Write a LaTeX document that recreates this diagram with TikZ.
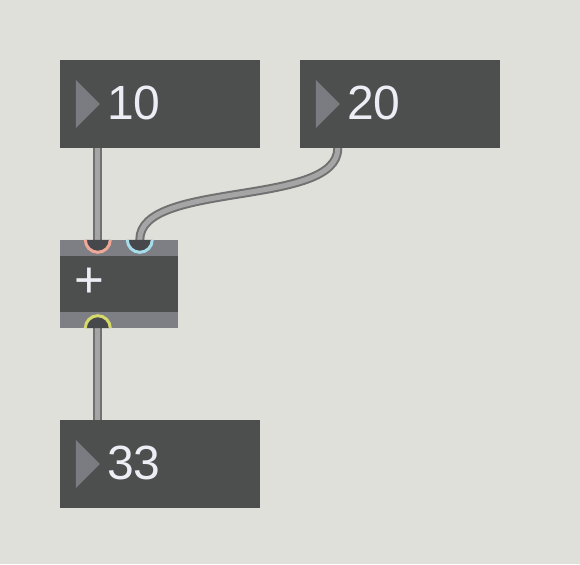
\documentclass[tikz,border=0pt]{standalone}
\usepackage{fontspec}
\setmainfont{Liberation Sans}
\usetikzlibrary{positioning}

\definecolor{patchbg}{HTML}{DFE0DA}
\definecolor{boxgray}{HTML}{4D4F4E}
\definecolor{stripgray}{HTML}{7E7F84}
\definecolor{trigray}{HTML}{7B7C82}
\definecolor{numwhite}{HTML}{EDEEF5}
\definecolor{cordfill}{HTML}{A5A5A5}
\definecolor{cordedge}{HTML}{717171}
\definecolor{portfill}{HTML}{46484C}
\definecolor{inleft}{HTML}{EFA898}
\definecolor{inright}{HTML}{A6DDEA}
\definecolor{outyellow}{HTML}{D6DA6A}

\pgfdeclarelayer{bg}
\pgfdeclarelayer{cords}
\pgfsetlayers{bg,cords,main}

\tikzset{
  numbox/.style={rectangle, fill=boxgray, minimum width=200pt, minimum height=88pt, inner sep=0pt},
  objbox/.style={rectangle, fill=boxgray, minimum width=118pt, minimum height=88pt, inner sep=0pt},
  numtext/.style={anchor=base west, inner sep=0pt, text=numwhite, font=\fontsize{48}{48}\selectfont},
  objtext/.style={inner sep=0pt, text=numwhite, font=\fontsize{51}{51}\selectfont},
  cord/.style={draw=cordedge, line width=2pt, double=cordfill, double distance=5pt, line cap=round},
  portring/.style={line width=3pt},
}

\begin{document}
\begin{tikzpicture}[x=1pt,y=1pt]
\begin{pgfonlayer}{bg}
\fill[patchbg] (0,0) rectangle (580,564);
\end{pgfonlayer}

\node[numbox] (ten) at (160,460) {};
\node[numbox] (twenty) at (400,460) {};
\node[objbox] (plus) at (119,280) {};
\node[numbox] (thirtythree) at (160,100) {};

\foreach \n in {ten,twenty,thirtythree}
  \fill[trigray] ([xshift=16pt,yshift=24pt]\n.west) -- ([xshift=40pt]\n.west) -- ([xshift=16pt,yshift=-24pt]\n.west) -- cycle;

\node[numtext] (tenval) at ([xshift=47pt,yshift=-16pt]ten.west) {10};
\node[numtext] (twentyval) at ([xshift=47pt,yshift=-16pt]twenty.west) {20};
\node[numtext] (thirtythreeval) at ([xshift=47pt,yshift=-16pt]thirtythree.west) {33};

% inlet and outlet strips of the + object
\fill[stripgray] (plus.north west) rectangle ([yshift=-16pt]plus.north east);
\fill[stripgray] (plus.south west) rectangle ([yshift=16pt]plus.south east);
\node[objtext] (plussign) at ([xshift=30pt,yshift=1pt]plus.west) {+};

\coordinate (tenout) at ([xshift=38pt]ten.south west);
\coordinate (twentyout) at ([xshift=38pt]twenty.south west);
\coordinate (plusinl) at ([xshift=38pt]plus.north west);
\coordinate (plusinr) at ([xshift=80pt]plus.north west);
\coordinate (plusout) at ([xshift=38pt]plus.south west);
\coordinate (thirtythreein) at ([xshift=38pt]thirtythree.north west);

\foreach \p/\c in {plusinl/inleft,plusinr/inright} {
  \fill[portfill] ([xshift=-12.5pt]\p) arc[start angle=180,end angle=360,radius=12.5pt] -- cycle;
  \draw[\c,portring] ([xshift=-12.5pt]\p) arc[start angle=180,end angle=360,radius=12.5pt];
}
\fill[portfill] ([xshift=-12.5pt]plusout) arc[start angle=180,end angle=0,radius=12.5pt] -- cycle;
\draw[outyellow,portring] ([xshift=-12.5pt]plusout) arc[start angle=180,end angle=0,radius=12.5pt];

\begin{pgfonlayer}{cords}
\path
(tenout) edge[cord] (plusinl)
(twentyout) edge[cord, out=-90, in=90, looseness=0.7] (plusinr)
(plusout) edge[cord] (thirtythreein);
\end{pgfonlayer}
\end{tikzpicture}
\end{document}
